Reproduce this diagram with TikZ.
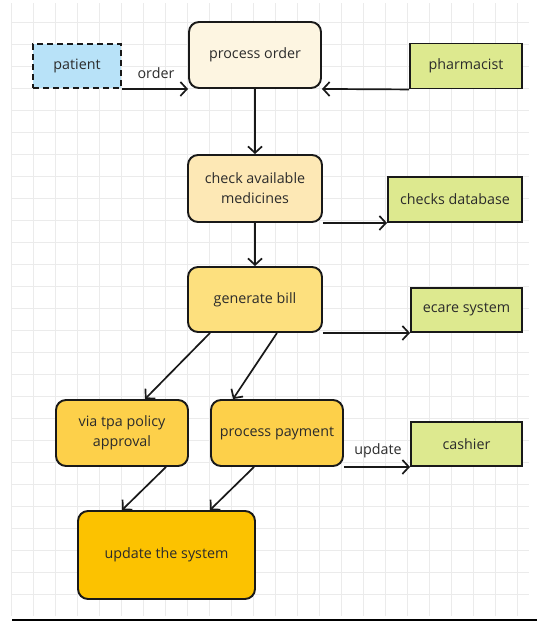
\documentclass[tikz,border=0pt]{standalone}
\usepackage{fontspec}
\setmainfont{Open Sans}
\usetikzlibrary{arrows.meta}
\definecolor{gridc}{HTML}{EBEBEB}
\definecolor{txt}{HTML}{2B2B2B}
\definecolor{cpat}{HTML}{B8E2F8}
\definecolor{cord}{HTML}{FDF5E1}
\definecolor{cchk}{HTML}{FDE8B5}
\definecolor{cgen}{HTML}{FDE07E}
\definecolor{cmid}{HTML}{FDD04A}
\definecolor{cupd}{HTML}{FCC200}
\definecolor{cgrn}{HTML}{DDE98F}
\tikzset{
  box/.style={draw=black!90, line width=1.9pt, text=txt, font=\fontsize{14.3}{20}\selectfont, align=center, inner sep=0pt},
  rbox/.style={box, rounded corners=10pt},
  conn/.style={line width=1.7pt, draw=black!90, -{Straight Barb[length=6.5pt,width=14pt,line width=1.7pt]}},
  lbl/.style={text=txt, font=\fontsize{14.3}{18}\selectfont, inner sep=0pt}
}
\begin{document}
\begin{tikzpicture}[x=1pt,y=-1pt]
\useasboundingbox (0,0) rectangle (537,624);
% grid
\foreach \i in {0,...,23} \draw[gridc, line width=0.6pt] (11+22*\i,3) -- (11+22*\i,616);
\foreach \j in {1,...,27} \draw[gridc, line width=0.6pt] (11,22*\j) -- (529,22*\j);
\draw[black, line width=2pt] (12,620) -- (537,620);
% nodes
\node[box, dashed, dash pattern=on 6pt off 4pt, fill=cpat, minimum width=88pt, minimum height=44pt] (pat) at (77,66) {patient};
\node[rbox, fill=cord, minimum width=132pt, minimum height=66pt] (ord) at (255,55) {process order};
\node[box, fill=cgrn, minimum width=112pt, minimum height=45pt] (pha) at (466,66) {pharmacist};
\node[rbox, fill=cchk, minimum width=134pt, minimum height=67pt] (chk) at (255,188.5) {check available\\medicines};
\node[box, fill=cgrn, minimum width=134pt, minimum height=45pt] (db) at (455,199.5) {checks database};
\node[rbox, fill=cgen, minimum width=134pt, minimum height=65pt] (gen) at (255,299.5) {generate bill};
\node[box, fill=cgrn, minimum width=111pt, minimum height=44pt] (eca) at (466.5,310) {ecare system};
\node[rbox, fill=cmid, minimum width=132pt, minimum height=66pt] (tpa) at (122,433) {via tpa policy\\approval};
\node[rbox, fill=cmid, minimum width=132pt, minimum height=66pt] (pay) at (277,433) {process payment};
\node[box, fill=cgrn, minimum width=111pt, minimum height=44pt] (cas) at (466.5,444) {cashier};
\node[rbox, fill=cupd, minimum width=177pt, minimum height=88pt] (upd) at (166.5,555) {update the system};
% connectors
\draw[conn] (pat.south east) -- (ord.south west);
\node[lbl] (olbl) at (156,73) {order};
\draw[conn] (pha.south west) -- (ord.south east);
\draw[conn] (ord.south) -- (chk.north);
\draw[conn] (chk.south east) -- (db.south west);
\draw[conn] (chk.south) -- (gen.north);
\draw[conn] (gen.south east) -- (eca.south west);
\draw[conn] ([xshift=-45pt]gen.south) -- ([xshift=23pt]tpa.north);
\draw[conn] ([xshift=22pt]gen.south) -- ([xshift=-44pt]pay.north);
\draw[conn] (pay.south east) -- (cas.south west);
\node[lbl] (ulbl) at (378,451) {update};
\draw[conn] ([xshift=44pt]tpa.south) -- ([xshift=-44.5pt]upd.north);
\draw[conn] ([xshift=-23pt]pay.south) -- ([xshift=43.5pt]upd.north);
\end{tikzpicture}
\end{document}
